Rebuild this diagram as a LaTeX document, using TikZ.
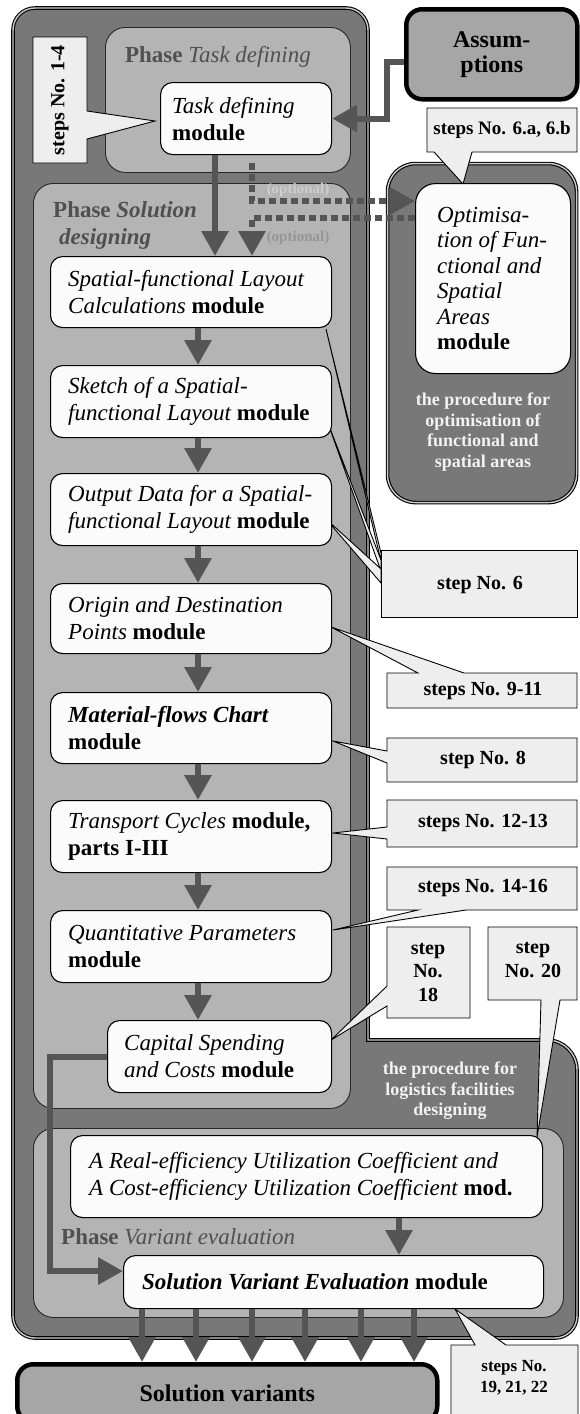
\documentclass[tikz,border=0pt]{standalone}
\usepackage{fontspec}
\setmainfont{Liberation Serif}
\usetikzlibrary{arrows.meta,calc}

\definecolor{framefill}{RGB}{120,120,120}
\definecolor{framegap}{RGB}{205,205,205}
\definecolor{phasefill}{RGB}{180,180,180}
\definecolor{modfill}{RGB}{251,251,251}
\definecolor{callfill}{RGB}{238,238,238}
\definecolor{flowcol}{RGB}{85,85,85}
\definecolor{titlecol}{RGB}{80,80,80}
\definecolor{notelight}{RGB}{205,205,205}
\definecolor{notedark}{RGB}{150,150,150}
\definecolor{termfill}{RGB}{166,166,166}
\definecolor{lighttext}{RGB}{242,242,242}

\newcommand\itp[1]{{\mdseries\itshape #1}}
\newcommand\itb[1]{{\bfseries\itshape #1}}

\begin{document}
\begin{tikzpicture}[x=1pt,y=-1pt,
  outerframe/.style={fill=framefill, draw=black, line width=1.1pt, double=framegap, double distance=1.4pt},
  phasebox/.style={fill=phasefill, draw=black!85, line width=0.9pt, rounded corners=20pt, anchor=north west, inner sep=0pt},
  modbox/.style={fill=modfill, draw=black, line width=1.1pt, rounded corners=12pt, anchor=north west, inner sep=0pt},
  modtext/.style={anchor=west, inner sep=0pt, align=left, font=\fontsize{23}{27}\selectfont\bfseries},
  phasetitle/.style={inner sep=0pt, align=left, text=titlecol, font=\fontsize{23}{27}\selectfont\bfseries},
  optnote/.style={inner sep=0pt, font=\fontsize{15}{17}\selectfont\bfseries},
  callshape/.style={fill=callfill, draw=black, line width=0.9pt},
  calltext/.style={inner sep=0pt, align=center, font=\fontsize{20}{23.5}\selectfont\bfseries},
  proctext/.style={inner sep=0pt, align=center, text=lighttext, font=\fontsize{18}{20.5}\selectfont\bfseries},
  termbox/.style={fill=termfill, draw=black, line width=4.5pt, rounded corners=16pt, anchor=north west, align=center, inner sep=0pt, font=\fontsize{24}{25}\selectfont\bfseries},
  flow/.style={draw=flowcol, line width=6pt, -{Triangle[width=26pt,length=25pt]}},
  optflow/.style={flow, dash pattern=on 7pt off 4pt}
]
\useasboundingbox (0,0) rectangle (580,1414);
\fill[white] (0,0) rectangle (580,1414);

% procedure for logistics facilities designing (L-shaped frame)
\path[outerframe] (35,8) -- (346,8) arc[start angle=-90,end angle=0,radius=22]
  -- (368,1040) -- (547,1040) arc[start angle=-90,end angle=0,radius=30]
  -- (577,1316) arc[start angle=0,end angle=90,radius=22]
  -- (35,1338) arc[start angle=90,end angle=180,radius=22]
  -- (13,30) arc[start angle=180,end angle=270,radius=22] -- cycle;

% procedure for optimisation of functional and spatial areas
\node[outerframe, rounded corners=28pt, anchor=north west, inner sep=0pt,
      minimum width=189pt, minimum height=339pt] (optframe) at (387,163) {};

% phases
\node[phasebox, minimum width=245pt, minimum height=145pt] (taskphase) at (105,27) {};
\node[phasebox, minimum width=317pt, minimum height=925pt] (solphase) at (33,183) {};
\node[phasebox, minimum width=530pt, minimum height=189pt] (varphase) at (33,1128) {};

% callout shapes
\path[callshape] (33,37) -- (87,37) -- (87,111) -- (155,121) -- (87,139) -- (87,163) -- (33,163) -- cycle;
\path[callshape] (427,108) -- (577,108) -- (577,152) -- (472,152) -- (463,184) -- (434,152) -- (427,152) -- cycle;
\path[callshape] (381,553) -- (326,329) -- (381,561) -- cycle;
\path[callshape] (381,560) -- (326,418) -- (381,571) -- cycle;
\path[callshape] (381,569) -- (326,519) -- (381,583) -- cycle;
\path[callshape] (381,550) rectangle (577,617);
\path[callshape] (387,673) -- (418,673) -- (331,627) -- (464,673) -- (577,673) -- (577,708) -- (387,708) -- cycle;
\path[callshape] (387,738) -- (577,738) -- (577,782) -- (387,782) -- (387,763) -- (333,741) -- (387,751) -- cycle;
\path[callshape] (387,800) -- (577,800) -- (577,847) -- (387,847) -- (387,839) -- (333,833) -- (387,827) -- cycle;
\path[callshape] (387,867) -- (577,867) -- (577,910) -- (466,910) -- (333,930) -- (418,910) -- (387,910) -- cycle;
\path[callshape] (387,927) -- (470,927) -- (470,1018) -- (387,1018) -- (387,1006) -- (331,1040) -- (387,986) -- cycle;
\path[callshape] (488,927) -- (577,927) -- (577,1000) -- (560,1000) -- (537,1137) -- (541,1000) -- (488,1000) -- cycle;
\path[callshape] (451,1345) -- (475,1345) -- (455,1309) -- (506,1345) -- (578,1345) -- (578,1420) -- (451,1420) -- cycle;

% modules
\node[modbox, minimum width=171pt, minimum height=72pt] (task) at (160,82) {};
\node[modbox, minimum width=281pt, minimum height=71pt] (sflc) at (50,256) {};
\node[modbox, minimum width=281pt, minimum height=72pt] (sketch) at (50,365) {};
\node[modbox, minimum width=281pt, minimum height=72pt] (output) at (50,473) {};
\node[modbox, minimum width=281pt, minimum height=70pt] (origin) at (50,583) {};
\node[modbox, minimum width=281pt, minimum height=71pt] (mflow) at (50,692) {};
\node[modbox, minimum width=281pt, minimum height=72pt] (tcyc) at (50,800) {};
\node[modbox, minimum width=281pt, minimum height=72pt] (quant) at (50,910) {};
\node[modbox, minimum width=224pt, minimum height=72pt] (capital) at (107,1020) {};
\node[modbox, minimum width=472pt, minimum height=82pt] (realeff) at (70,1135) {};
\node[modbox, minimum width=420pt, minimum height=53pt] (soleval) at (123,1255) {};
\node[modbox, minimum width=155pt, minimum height=190pt, rounded corners=20pt] (opt) at (415,183) {};

% terminals
\node[termbox, minimum width=171pt, minimum height=90pt] (assum) at (404,7) {Assum-\\ptions};
\node[termbox, minimum width=420pt, minimum height=58pt] (solvar) at (15,1362) {Solution variants};

% connector anchors
\coordinate (colx) at (198,0);
\coordinate (taskx) at (215,0);
\coordinate (optx) at (252,0);
\coordinate (evx) at (399,0);
\coordinate (optsrc) at (252,163);
\coordinate (optin) at (415,201);
\coordinate (optout) at (415,218);
\coordinate (asmout) at (404,62);
\coordinate (asmbend) at (387,90);
\coordinate (lbend) at (50,1160);
\coordinate (evin) at ($(soleval.west)+(0,-11)$);

% main flow
\draw[flow] (asmout) -| (asmbend) |- (task.east);
\draw[flow] (task.south -| taskx) -- (sflc.north -| taskx);
\draw[flow] (sflc.south -| colx) -- (sketch.north -| colx);
\draw[flow] (sketch.south -| colx) -- (output.north -| colx);
\draw[flow] (output.south -| colx) -- (origin.north -| colx);
\draw[flow] (origin.south -| colx) -- (mflow.north -| colx);
\draw[flow] (mflow.south -| colx) -- (tcyc.north -| colx);
\draw[flow] (tcyc.south -| colx) -- (quant.north -| colx);
\draw[flow] (quant.south -| colx) -- (capital.north -| colx);
\draw[flow] (capital.west) -| (lbend) |- (evin);
\draw[flow] (realeff.south -| evx) -- (soleval.north -| evx);
\foreach \vx [count=\k] in {142,196,252,305,361,414}{
  \coordinate (vcol\k) at (\vx,0);
  \draw[flow] (soleval.south -| vcol\k) -- (solvar.north -| vcol\k);
}

% optional branch
\draw[optflow] (optsrc) |- (optin);
\draw[optflow] (optout) -| (sflc.north -| optx);

% module texts
\node[modtext] (taskT) at ([xshift=12pt]task.west) {\itp{Task defining}\\module};
\node[modtext] (sflcT) at ([xshift=18pt]sflc.west) {\itp{Spatial-functional Layout}\\\itp{Calculations} module};
\node[modtext] (sketchT) at ([xshift=18pt]sketch.west) {\itp{Sketch of a Spatial-}\\\itp{functional Layout} module};
\node[modtext] (outputT) at ([xshift=18pt]output.west) {\itp{Output Data for a Spatial-}\\\itp{functional Layout} module};
\node[modtext] (originT) at ([xshift=18pt]origin.west) {\itp{Origin and Destination}\\\itp{Points} module};
\node[modtext] (mflowT) at ([xshift=18pt]mflow.west) {\itb{Material-flows Chart}\\module};
\node[modtext] (tcycT) at ([xshift=18pt]tcyc.west) {\itp{Transport Cycles} module,\\parts I-III};
\node[modtext] (quantT) at ([xshift=18pt]quant.west) {\itp{Quantitative Parameters}\\module};
\node[modtext] (capitalT) at ([xshift=17pt]capital.west) {\itp{Capital Spending}\\\itp{and Costs} module};
\node[modtext] (realeffT) at ([xshift=19pt]realeff.west) {\itp{A Real-efficiency Utilization Coefficient and}\\\itp{A Cost-efficiency Utilization Coefficient} mod.};
\node[modtext] (solevalT) at ([xshift=19pt]soleval.west) {\itb{Solution Variant Evaluation} module};
\node[modtext, font=\fontsize{23}{25.5}\selectfont\bfseries] (optT) at ([xshift=22pt]opt.west) {\itp{Optimisa-}\\\itp{tion of Fun-}\\\itp{ctional and}\\\itp{Spatial}\\\itp{Areas}\\module};

% phase titles
\node[phasetitle] (taskphaseT) at (218,57) {Phase \itp{Task defining}};
\node[phasetitle, anchor=west] (solphaseT) at (53,225) {Phase \itb{Solution}\\\hspace{6pt}\itb{designing}};
\node[phasetitle, anchor=west] (varphaseT) at (61,1237) {Phase \itp{Variant evaluation}};
\node[optnote, text=notelight] (note1) at (298,190) {(optional)};
\node[optnote, text=notedark] (note2) at (298,238) {(optional)};

% procedure labels
\node[proctext] (optprocT) at (483,432) {the procedure for\\optimisation of\\functional and\\spatial areas};
\node[proctext] (logprocT) at (450,1091) {the procedure for\\logistics facilities\\designing};

% callout texts
\node[calltext, rotate=90] (c14) at (60,100) {steps No. 1-4};
\node[calltext, font=\fontsize{19}{22}\selectfont\bfseries] (c6ab) at (502,130) {steps No. 6.a, 6.b};
\node[calltext] (c6) at (480,585) {step No. 6};
\node[calltext] (c911) at (483,691) {steps No. 9-11};
\node[calltext] (c8) at (483,760) {step No. 8};
\node[calltext] (c1213) at (483,823) {steps No. 12-13};
\node[calltext] (c1416) at (483,888) {steps No. 14-16};
\node[calltext] (c18) at (428,972) {step\\No.\\18};
\node[calltext] (c20) at (533,960) {step\\No. 20};
\node[calltext, font=\fontsize{17}{21}\selectfont\bfseries] (c192122) at (514,1378) {steps No.\\19, 21, 22};
\end{tikzpicture}
\end{document}
